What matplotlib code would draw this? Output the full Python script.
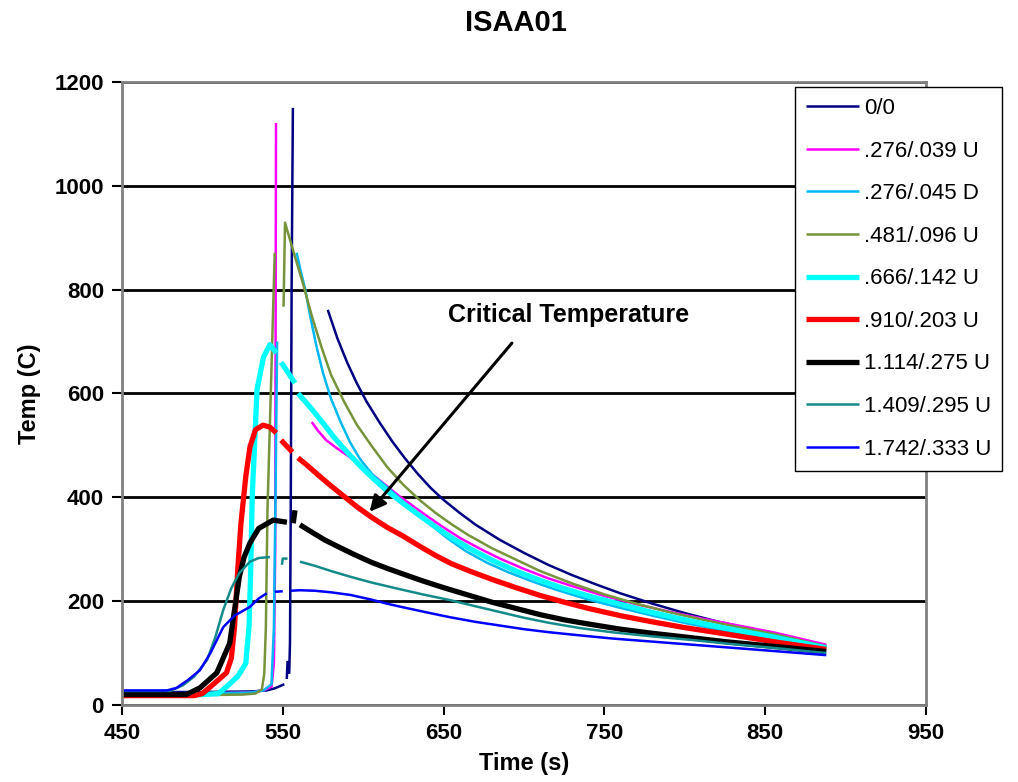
import numpy as np
import matplotlib
matplotlib.use("Agg")
from matplotlib import pyplot as plt

nan = np.nan

# temperature histories, one pair of lists per test (nan = gap in the logged data)
t_00 = [450, 500, 530, 540, 545, 548, 551, nan, 552.5, 553, nan, 554, 554.5, 555, 555.5, 556.3, nan,
        578, 584, 590, 596, 602, 610, 618, 626, 634, 642, 650, 660, 670, 685, 700, 715, 730, 745,
        760, 780, 800, 820, 840, 865, 888]
T_00 = [25, 25, 26, 28, 32, 36, 40, nan, 50, 85, nan, 60, 120, 400, 800, 1150, nan,
        761, 706, 660, 620, 585, 545, 508, 475, 445, 418, 395, 370, 347, 318, 293, 270, 250, 232,
        215, 195, 177, 161, 147, 131, 114]

t_039 = [450, 500, 530, 538, 543, 544.5, 545.3, 545.8, nan,
         568, 572, 577, 583, 590, 598, 606, 615, 623, 632, 641, 650, 660, 672, 685, 700, 715, 730,
         750, 770, 790, 810, 830, 855, 888]
T_039 = [22, 22, 24, 28, 35, 80, 300, 1121, nan,
         545, 528, 510, 496, 481, 463, 443, 421, 401, 381, 361, 342, 322, 302, 282, 262, 244, 229,
         210, 194, 180, 167, 155, 140, 116]

t_045 = [450, 500, 530, 538, 543, 544.5, 545.5, 546.5, nan,
         558.6, 561, 564, 567, 571, 575, 580, 586, 592, 598, 606, 617, 628, 640, 652, 664, 677, 690,
         705, 720, 740, 760, 780, 800, 825, 855, 888]
T_045 = [22, 22, 24, 28, 40, 150, 400, 700, nan,
         871, 838, 800, 750, 690, 640, 590, 545, 505, 474, 443, 414, 382, 352, 322, 296, 274, 256,
         238, 222, 203, 187, 172, 158, 143, 128, 111]

t_096 = [450, 500, 525, 533, 537, 538.5, 539.5, 540.5, 543, 545, nan,
         550.5, 551.4, 556, 562, 568, 574, 580, 588, 596, 605, 615, 625, 635, 645, 655, 665, 680,
         695, 710, 730, 750, 770, 790, 810, 830, 855, 888]
T_096 = [20, 19, 20, 22, 30, 60, 150, 376, 650, 871, nan,
         767, 929, 880, 818, 750, 690, 636, 585, 540, 500, 458, 424, 395, 370, 348, 328, 302,
         280, 258, 234, 213, 195, 179, 165, 152, 137, 113]

t_142 = [450, 500, 510, 515, 522, 527, 529, 530, 531, 534, 538, 542, 546, nan,
         549, 557.6, nan, 559.5, 563, 568, 575, 582, 590, 598, 606, 615, 625, 635, 645, 655, 667,
         680, 695, 710, 725, 740, 760, 780, 800, 825, 855, 888]
T_142 = [20, 20, 22, 35, 55, 80, 150, 250, 400, 607, 670, 694, 678, nan,
         660, 620, nan, 600, 588, 570, 543, 515, 487, 461, 437, 412, 388, 365, 343, 322, 300,
         279, 258, 240, 224, 210, 194, 178, 164, 148, 131, 110]

t_203 = [450, 495, 500, 505, 515, 518, 520, 522, 524, 527, 529.6, 533, 537.7, 542, 546, nan,
         549, 556, nan, 559.5, 565, 572, 580, 588, 596, 605, 615, 625, 635, 645, 655, 667, 680,
         695, 710, 725, 740, 760, 780, 800, 825, 855, 888]
T_203 = [18, 18, 22, 35, 62, 90, 150, 260, 350, 440, 497, 530, 539, 535, 524, nan,
         510, 487, nan, 476, 462, 443, 422, 402, 382, 362, 342, 325, 306, 288, 272, 257, 242,
         226, 211, 198, 186, 172, 160, 149, 137, 122, 107]

t_275 = [450, 490, 498.5, 509, 517, 523, 526, 529.6, 535, 544, 552.6, nan, 556.5, 557.6, nan,
         560.7, 568, 576, 585, 595, 605, 615, 625, 637, 650, 665, 680, 695, 710, 725, 740, 760,
         780, 800, 825, 855, 888]
T_275 = [20, 20, 33, 62, 119, 247, 285, 312, 340, 356, 352, nan, 350, 375, nan,
         347, 333, 318, 304, 289, 275, 263, 252, 239, 226, 212, 198, 186, 174, 164, 156, 146,
         138, 131, 122, 113, 103]

t_295 = [450, 480, 488, 495, 503, 508, 513, 518, 523, 529.6, 535, 542, nan, 549.5, 550, 553, nan,
         560.7, 570, 580, 592, 605, 620, 637, 654, 670, 685, 700, 716, 735, 755, 780, 805, 830,
         855, 888]
T_295 = [27, 27, 38, 55, 87, 130, 183, 225, 254, 276, 283, 285, nan, 270, 282, 282, nan,
         276, 268, 258, 247, 236, 225, 213, 202, 190, 179, 168, 158, 148, 140, 132, 125, 117,
         110, 100]

t_333 = [450, 478, 484, 491, 498.5, 505, 513, 520, 529.6, 535, 540, nan, 545, 550, nan,
         555, 560.7, 570, 580, 592, 605, 615, 625, 640, 654, 670, 685, 700, 716, 735, 755, 780,
         805, 830, 855, 888]
T_333 = [28, 28, 33, 48, 67, 100, 150, 172, 189, 205, 215, nan, 218, 219, nan,
         220, 221, 220, 217, 212, 203, 195, 188, 178, 169, 160, 153, 146, 140, 134, 128, 122,
         116, 110, 104, 96]

labels = ["0/0", ".276/.039 U", ".276/.045 D", ".481/.096 U", ".666/.142 U",
          ".910/.203 U", "1.114/.275 U", "1.409/.295 U", "1.742/.333 U"]
series = [(t_00, T_00), (t_039, T_039), (t_045, T_045), (t_096, T_096), (t_142, T_142),
          (t_203, T_203), (t_275, T_275), (t_295, T_295), (t_333, T_333)]
colors = ["#000080", "#FF00FF", "#00B8F0", "#77933C", "#00FFFF",
          "#FF0000", "#000000", "#168A8A", "#0000FF"]
widths = [1.8, 1.8, 1.8, 1.8, 3.8, 3.8, 3.8, 1.8, 1.8]

x_ticks = [450, 550, 650, 750, 850, 950]
y_ticks = [0, 200, 400, 600, 800, 1000, 1200]

plt.rcParams['font.family'] = ['Liberation Sans', 'DejaVu Sans']

fig = plt.figure(figsize=(10.18, 7.82), dpi=100)
ax = fig.add_axes([0.1198, 0.0985, 0.7898, 0.7967])

for (t, T), lab, c, w in zip(series, labels, colors, widths):
    ax.plot(t, T, color=c, lw=w, label=lab, solid_capstyle='butt')

ax.set_xlim(450, 950)
ax.set_ylim(0, 1200)
ax.set_xticks(x_ticks)
ax.set_yticks(y_ticks)
ax.yaxis.grid(True, color='black', lw=2.0)
ax.set_axisbelow(True)
for s in ax.spines.values():
    s.set_color('#808080')
    s.set_linewidth(2.0)
ax.tick_params(direction='out', length=7, width=1.5, color='black', labelsize=16, pad=6)
for lbl in ax.get_xticklabels() + ax.get_yticklabels():
    lbl.set_fontweight('bold')

ax.set_xlabel('Time (s)', fontsize=17, fontweight='bold', labelpad=6)
ax.set_ylabel('Temp (C)', fontsize=17, fontweight='bold', labelpad=10)
fig.suptitle('ISAA01', x=0.507, y=0.988, fontsize=21, fontweight='bold', va='top')

# label and arrow pointing at the critical temperature
ax.text(727.5, 752, 'Critical Temperature', fontsize=18, fontweight='bold',
        ha='center', va='center')
ax.annotate('', xy=(604, 372), xytext=(692.5, 697),
            arrowprops=dict(arrowstyle='-|>', color='black', lw=2.2, mutation_scale=24,
                            shrinkA=0, shrinkB=0))

leg = ax.legend(loc='upper left', bbox_to_anchor=(795 / 1018, 1 - 87 / 782),
                bbox_transform=fig.transFigure, borderaxespad=0, fontsize=16,
                handlelength=2.4, handletextpad=0.2, labelspacing=0.97,
                borderpad=0.5, fancybox=False, framealpha=1, edgecolor='black')
leg.get_frame().set_linewidth(1.0)

fig.savefig('out.png', dpi=100)
